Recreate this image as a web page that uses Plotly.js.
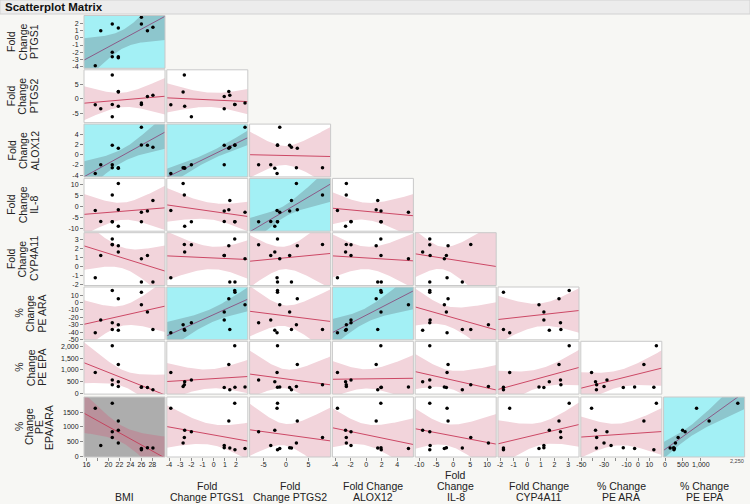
<!DOCTYPE html>
<html>
<head>
<meta charset="utf-8">
<script src="https://cdn.plot.ly/plotly-3.0.1.min.js"></script>
<style>
  body { margin: 0; background: #F7F7F4; }
  #plotArea { width: 750px; height: 504px; }
</style>
</head>
<body>
<div id="plotArea"></div>
<script>
// one entry per subject (null = no point drawn)
var bmi      = [17.6, 18.6, 20.7, 20.7, 20.7, 21.8, 21.8, 21.8, 26.0, 26.0, 27.1, 28.1]
var ptgs1    = [-3.84, 0.94, 1.88, -2.0, -2.63, 1.35, -2.6, -2.74, 2.8, 1.9, 0.94, 1.44]
var ptgs2    = [-2.0, -3.4, -1.9, -6.1, 8.1, 2.5, -2.5, 2.3, -1.4, -1.9, 0.8, 1.2]
var alox12   = [-3.7, -1.95, 1.9, -1.95, -2.56, 1.3, -2.65, -2.55, 5.46, 1.95, 1.92, 1.5]
var il8      = [-1.8, -6.8, -6.9, -6.9, 5.2, -1.5, -9.0, 10.4, -2.6, -6.9, -2.0, 2.7]
var cyp4a11  = [-1.29, 1.22, 3.08, 2.44, 2.47, 2.33, 1.62, null, 0.86, -1.75, 1.22, -1.75]
var peAra    = [-41, -23.8, 16.2, -27.4, -36.5, 5.2, -37.5, -30, -3, 14, -13, -36.7]
var peEpa    = [880, null, 2030, 560, 365, 1230, 490, 290, 260, 250, 240, 143]
var peEpaAra = [1630, 370, 1795, 835, 643, 1194, 886, 450, 270, 225, 295, 282]

var variables = [bmi, ptgs1, ptgs2, alox12, il8, cyp4a11, peAra, peEpa, peEpaAra]

// axis titles (one entry per line)
var xTitles = [["BMI"], ["Fold", "Change PTGS1"], ["Fold", "Change PTGS2"], ["Fold Change", "ALOX12"],
               ["Fold", "Change", "IL-8"], ["Fold Change", "CYP4A11"], ["% Change", "PE ARA"], ["% Change", "PE EPA"]]
var yTitles = [null, ["Fold", "Change", "PTGS1"], ["Fold", "Change", "PTGS2"], ["Fold", "Change", "ALOX12"],
               ["Fold", "Change", "IL-8"], ["Fold", "Change", "CYP4A11"], ["%", "Change", "PE ARA"],
               ["%", "Change", "PE EPA"], ["%", "Change", "PE", "EPA/ARA"]]

// tick labels
var bmiTicks = [16, 18, 20, 22, 24, 26, 28]
var bmiText = ["16", "", "20", "22", "24", "26", "28"]
var ptgs1Ticks = [-4, -3, -2, -1, 0, 1, 2]
var ptgs2Ticks = [-5, 0, 5]
var aloxTicks = [-4, -2, 0, 2, 4]
var il8Ticks = [-10, -5, 0, 5, 10]
var cypTicks = [-2, -1, 0, 1, 2, 3]
var araTicks = [-50, -40, -30, -20, -10, 0, 10]
var araColText = ["-50", "", "-30", "", "-10", "0", "10"]
var epaRowTicks = [0, 500, 1000, 1500, 2000]
var epaRowText = ["0", "500", "1,000", "1,500", "2,000"]
var epaColTicks = [0, 500, 1000]
var epaColText = ["0", "500", "1,000"]
var ratioTicks = [0, 500, 1000, 1500]

var axisRanges = [[15.55, 30.3], [-4.2, 3.05], [-8.1, 9.9], [-4.35, 6.1], [-11.2, 12.7],
                  [-2.15, 3.8], [-50.5, 21], [-40, 2220], [-20, 2010]]

var colTicks = [[bmiTicks, bmiText], [ptgs1Ticks], [ptgs2Ticks], [aloxTicks], [il8Ticks], [cypTicks],
                [araTicks, araColText], [epaColTicks, epaColText]]
var rowTicks = [null, [ptgs1Ticks], [ptgs2Ticks], [aloxTicks], [il8Ticks], [cypTicks], [araTicks],
                [epaRowTicks, epaRowText], [ratioTicks]]

// panels with a significant fit: [row, col]
var positivePanels = [[1, 1], [3, 1], [3, 2], [4, 3], [6, 2], [6, 4], [8, 8]]
var negativePanels = [[8, 1]]

var styles = {
    plain: { bg: "#FFFFFF", band: "#F2D4DB", line: "#CC4865" },
    pos:   { bg: "#A3F0F5", band: "#8DC6CD", line: "#8B5B88" },
    neg:   { bg: "#ADADAD", band: "#B9929C", line: "#C4445F" }
}

var W = 750, H = 504
function px2x(p) { return p / W }
function px2y(p) { return 1 - p / H }
function colLeft(c) { return 84 + (c - 1) * 82.8 }
var colW = 81
function rowTop(r) { return r < 8 ? 15.5 + (r - 1) * 54.3 : 397 }
function rowBot(r) { return r < 8 ? rowTop(r) + 52.8 : 457 }
function xId(c) { return c == 1 ? "x" : "x" + c }
function yId(r) { return r == 1 ? "y" : "y" + r }

var sans = "Liberation Sans, Arial, sans-serif"

// t quantile (0.975) by degrees of freedom
var t975 = { 7: 2.365, 8: 2.306, 9: 2.262, 10: 2.228 }

function fitLine(xs, ys) {
    var px = [], py = []
    xs.forEach((x, i) => {
        if (x != null && ys[i] != null) { px.push(x); py.push(ys[i]) }
    })
    var n = px.length
    var mx = px.reduce((a, b) => a + b, 0) / n
    var my = py.reduce((a, b) => a + b, 0) / n
    var sxx = 0, sxy = 0
    px.forEach((x, i) => { sxx += (x - mx) * (x - mx); sxy += (x - mx) * (py[i] - my) })
    var b = sxy / sxx, a = my - b * mx
    var sse = 0
    px.forEach((x, i) => { var e = py[i] - (a + b * x); sse += e * e })
    var s = Math.sqrt(sse / (n - 2))
    return { a: a, b: b, n: n, mx: mx, sxx: sxx, s: s, t: t975[n - 2], px: px, py: py }
}

function styleFor(r, c) {
    if (positivePanels.some(p => p[0] == r && p[1] == c)) return styles.pos
    if (negativePanels.some(p => p[0] == r && p[1] == c)) return styles.neg
    return styles.plain
}

var traces = []
var shapes = []
var annotations = []

for (var r = 1; r <= 8; r++) {
    for (var c = 1; c <= r; c++) {
        var xs = variables[c - 1], ys = variables[r]
        var fit = fitLine(xs, ys)
        var st = styleFor(r, c)
        var xr = axisRanges[c - 1]

        shapes.push({ type: "rect", layer: "below", xref: xId(c) + " domain", yref: yId(r) + " domain",
            x0: 0, x1: 1, y0: 0, y1: 1, fillcolor: st.bg, line: { width: 0 } })

        // confidence band of the fitted line
        var gx = [], up = [], lo = []
        for (var k = 0; k <= 80; k++) {
            var x = xr[0] + (xr[1] - xr[0]) * k / 80
            var yhat = fit.a + fit.b * x
            var half = fit.t * fit.s * Math.sqrt(1 / fit.n + (x - fit.mx) * (x - fit.mx) / fit.sxx)
            gx.push(x); up.push(yhat + half); lo.push(yhat - half)
        }
        traces.push({
            x: gx.concat(gx.slice().reverse()),
            y: up.concat(lo.slice().reverse()),
            xaxis: xId(c), yaxis: yId(r),
            mode: "lines", fill: "toself", fillcolor: st.band,
            line: { width: 0 }, hoverinfo: "skip"
        })
        traces.push({
            x: [xr[0], xr[1]],
            y: [fit.a + fit.b * xr[0], fit.a + fit.b * xr[1]],
            xaxis: xId(c), yaxis: yId(r),
            mode: "lines", line: { color: st.line, width: 1 }, hoverinfo: "skip"
        })
        traces.push({
            x: fit.px, y: fit.py,
            xaxis: xId(c), yaxis: yId(r),
            mode: "markers", type: "scatter",
            marker: { color: "#000000", size: 3.5 }
        })

        shapes.push({ type: "rect", layer: "above", xref: xId(c) + " domain", yref: yId(r) + " domain",
            x0: 0, x1: 1, y0: 0, y1: 1, line: { color: "#C9C9C9", width: 1 } })
    }
}

var layout = {
    width: W, height: H,
    margin: { l: 0, r: 0, t: 0, b: 0 },
    paper_bgcolor: "#F7F7F4",
    plot_bgcolor: "rgba(0,0,0,0)",
    showlegend: false,
    font: { family: sans, size: 7, color: "#222" }
}

function axisBase() {
    return { ticks: "outside", ticklen: 3, tickcolor: "#8A8A8A", tickwidth: 1,
             showgrid: false, zeroline: false, showline: false,
             tickfont: { family: sans, size: 7, color: "#222" } }
}

for (var c = 1; c <= 8; c++) {
    var ax = axisBase()
    ax.domain = [px2x(colLeft(c)), px2x(colLeft(c) + colW)]
    ax.range = axisRanges[c - 1]
    ax.anchor = "y8"
    ax.tickmode = "array"
    ax.tickvals = colTicks[c - 1][0]
    ax.ticktext = colTicks[c - 1][1] || colTicks[c - 1][0].map(String)
    ax.ticklabelstandoff = -2
    layout[c == 1 ? "xaxis" : "xaxis" + c] = ax

    var lines = xTitles[c - 1]
    lines.forEach((txt, j) => {
        annotations.push({ text: txt, showarrow: false, xref: xId(c) + " domain", x: 0.5,
            yref: "paper", y: px2y(497 - (lines.length - 1 - j) * 11), xanchor: "center", yanchor: "middle",
            font: { family: sans, size: 10.5, color: "#222" } })
    })
}

for (var r = 1; r <= 8; r++) {
    var ay = axisBase()
    ay.domain = [px2y(rowBot(r)), px2y(rowTop(r))]
    ay.range = axisRanges[r]
    ay.anchor = "x"
    ay.tickmode = "array"
    ay.tickvals = rowTicks[r][0]
    ay.ticktext = rowTicks[r][1] || rowTicks[r][0].map(String)
    layout[r == 1 ? "yaxis" : "yaxis" + r] = ay

    var lines = yTitles[r]
    var start = lines[0] == "%" ? 19 : 11
    var step = lines.length > 3 ? 10 : 11.5
    var cy = (rowTop(r) + rowBot(r)) / 2
    lines.forEach((txt, j) => {
        annotations.push({ text: txt, showarrow: false, textangle: -90,
            xref: "paper", x: px2x(start + j * step), yref: "paper", y: px2y(cy),
            xanchor: "center", yanchor: "middle",
            font: { family: sans, size: 10.5, color: "#222" } })
    })
}

// small end label on the PE EPA axis
annotations.push({ text: "2,250", showarrow: false, xref: "paper", yref: "paper",
    x: px2x(737), y: px2y(461), xanchor: "center", yanchor: "middle",
    font: { family: sans, size: 5.5, color: "#444" } })

// title bar
shapes.push({ type: "rect", xref: "paper", yref: "paper", x0: 0, x1: 1, y0: px2y(14), y1: 1,
    fillcolor: "#ECECEC", line: { color: "#D2D2D2", width: 1 }, layer: "below" })
annotations.push({ text: "<b>Scatterplot Matrix</b>", showarrow: false, xref: "paper", yref: "paper",
    x: px2x(3), y: px2y(7), xanchor: "left", yanchor: "middle",
    font: { family: sans, size: 11.5, color: "#111" } })

layout.shapes = shapes
layout.annotations = annotations

Plotly.newPlot("plotArea", traces, layout, { displayModeBar: false, staticPlot: true })
</script>
</body>
</html>
